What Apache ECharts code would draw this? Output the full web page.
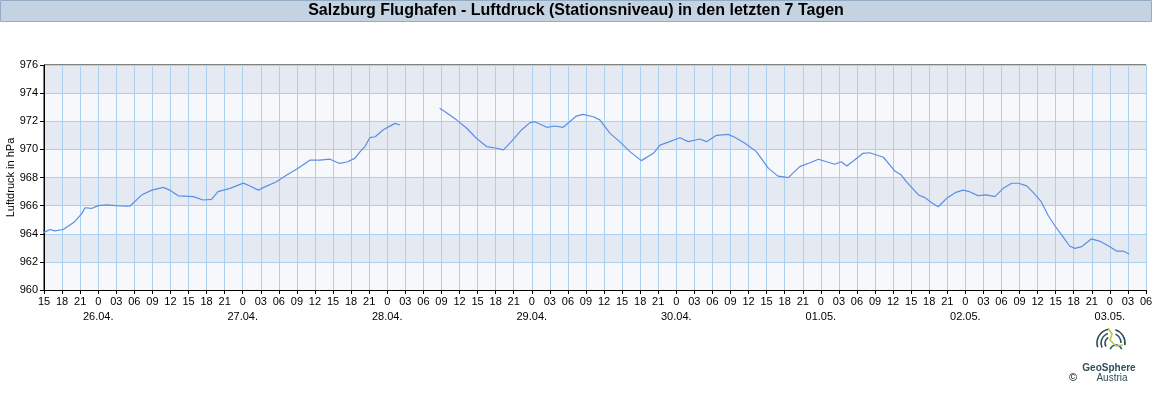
<!DOCTYPE html>
<html>
<head>
<meta charset="utf-8">
<script src="https://cdn.jsdelivr.net/npm/echarts@6/dist/echarts.min.js"></script>
<style>
html,body{margin:0;padding:0;background:#fff;}
#c{width:1152px;height:400px;}
</style>
</head>
<body>
<div id="c"></div>
<script>
// hours since 25.04. 15:00
const hours = [0,1,1.8,3.2,5.1,6.3,6.8,7.9,9,10.4,12,13.7,14.3,16.2,17.9,19.8,20.9,22.3,24.8,26.4,27.8,28.9,30.9,33.1,34.2,35.6,36.4,38.6,40.3,42,44.2,45.8,47.5,49.1,50.3,51.6,52.5,53.3,54.1,55,56.3,57.2,58.3,59.1,
  62,
  65.7,66.6,68.5,70.2,71.8,73.5,75.2,76.3,77.6,79.3,80.7,81.5,83.5,84.8,86.2,87.3,88.4,89.5,91.2,92.3,94,95.6,97.3,99.2,101.2,102.3,103.9,105.6,107,108.9,110,111.7,113.6,114.7,116.4,118.3,120.3,121.9,123.6,125.5,127.2,128.6,131.3,132.4,133.3,134.4,136,137.1,139.4,141.3,142.3,143.2,145.2,146.3,147.4,148.5,149.9,151.3,152.6,153.7,155.1,156.5,157.9,159.3,160.7,161.8,163.2,164.3,165.6,166.8,167.9,169.2,170.3,171.2,172.3,173.9,175.3,177,178.1,179.2,180.2];
const pressure = [964.1,964.3,964.2,964.3,964.86,965.45,965.85,965.8,966.0,966.05,966.0,965.97,965.97,966.75,967.1,967.3,967.1,966.7,966.64,966.4,966.45,967.0,967.23,967.6,967.4,967.1,967.28,967.7,968.18,968.6,969.24,969.24,969.3,969.0,969.1,969.36,969.84,970.2,970.83,970.9,971.38,971.6,971.85,971.73,
  '-',
  972.92,972.68,972.1,971.5,970.79,970.2,970.08,969.96,970.55,971.38,971.9,971.97,971.57,971.66,971.57,971.97,972.37,972.49,972.32,972.1,971.14,970.55,969.84,969.2,969.72,970.3,970.55,970.83,970.55,970.74,970.55,971.0,971.07,970.86,970.43,969.84,968.65,968.1,967.99,968.77,969.05,969.3,968.94,969.12,968.82,969.17,969.72,969.76,969.44,968.46,968.2,967.7,966.76,966.57,966.2,965.92,966.52,966.92,967.1,966.99,966.71,966.76,966.64,967.23,967.59,967.59,967.4,966.92,966.28,965.26,964.55,963.79,963.13,962.96,963.08,963.63,963.48,963.08,962.77,962.77,962.56];
const startHour = 15;
const dayLabels = ['26.04.','27.04.','28.04.','29.04.','30.04.','01.05.','02.05.','03.05.'];
const yMin = 960, yMax = 976, yStep = 2;
const xMin = 0, xMax = 183, xStep = 3;
const titleText = 'Salzburg Flughafen - Luftdruck (Stationsniveau) in den letzten 7 Tagen';
const yName = 'Luftdruck in hPa';

const seriesData = hours.map((h, i) => [h, pressure[i]]);
const font = 'Liberation Sans, Arial, sans-serif';

const chart = echarts.init(document.getElementById('c'), null, {renderer: 'canvas'});
chart.setOption({
  animation: false,
  backgroundColor: '#fff',
  textStyle: {fontFamily: font},
  grid: {left: 44, right: 6, top: 65, bottom: 110, containLabel: false, outerBoundsMode: 'none',
    show: true, borderColor: '#000', borderWidth: 1, backgroundColor: 'transparent'},
  graphic: [
    {type: 'rect', shape: {x: 0.5, y: 0.5, width: 1151, height: 21}, style: {fill: '#c4d3e1', stroke: '#93acc4', lineWidth: 1}, z: 10},
    {type: 'text', x: 576, y: 11, style: {text: titleText, fill: '#000', font: 'bold 16px ' + font, textAlign: 'center', textVerticalAlign: 'middle'}, z: 11},
    // logo
    {type: 'group', x: 1111, y: 343, z: 10, children: [
      {type: 'arc', shape: {cx: 0, cy: 0, r: 14, startAngle: Math.PI*0.9, endAngle: Math.PI*1.45}, style: {stroke: '#2f4f5a', lineWidth: 1.6, fill: 'none'}},
      {type: 'arc', shape: {cx: 0, cy: 0, r: 10, startAngle: Math.PI*0.85, endAngle: Math.PI*1.4}, style: {stroke: '#2f4f5a', lineWidth: 1.6, fill: 'none'}},
      {type: 'arc', shape: {cx: 0, cy: 0, r: 6, startAngle: Math.PI*0.8, endAngle: Math.PI*1.35}, style: {stroke: '#2f4f5a', lineWidth: 1.6, fill: 'none'}},
      {type: 'arc', shape: {cx: 0, cy: 0, r: 14, startAngle: Math.PI*1.6, endAngle: Math.PI*0.05}, style: {stroke: '#2f4f5a', lineWidth: 1.6, fill: 'none'}},
      {type: 'arc', shape: {cx: 0, cy: 0, r: 10, startAngle: Math.PI*1.65, endAngle: Math.PI*0.0}, style: {stroke: '#2f4f5a', lineWidth: 1.6, fill: 'none'}},
      {type: 'arc', shape: {cx: 5, cy: 8, r: 6, startAngle: Math.PI*1.1, endAngle: Math.PI*1.9}, style: {stroke: '#2f4f5a', lineWidth: 1.6, fill: 'none'}},
      {type: 'polyline', shape: {points: [[-3,-15],[1,-9],[-1,-3],[5,3],[12,2]]}, style: {stroke: '#b5cf3a', lineWidth: 1.6, fill: 'none'}}
    ]},
    {type: 'text', x: 1109, y: 368, style: {text: 'GeoSphere', fill: '#2f4f5a', font: 'bold 10px ' + font, textAlign: 'center', textVerticalAlign: 'middle'}, z: 10},
    {type: 'text', x: 1112, y: 378, style: {text: 'Austria', fill: '#2f4f5a', font: '10px ' + font, textAlign: 'center', textVerticalAlign: 'middle'}, z: 10},
    {type: 'text', x: 1073, y: 378, style: {text: '©', fill: '#000', font: '11px ' + font, textAlign: 'center', textVerticalAlign: 'middle'}, z: 10}
  ],
  xAxis: {
    type: 'value', min: xMin, max: xMax, interval: xStep,
    axisLine: {show: true, onZero: false, lineStyle: {color: '#000', width: 1}},
    axisTick: {show: true, length: 4, lineStyle: {color: '#000'}},
    axisLabel: {
      color: '#000', fontSize: 11, margin: 4, lineHeight: 15, showMaxLabel: true, showMinLabel: true,
      formatter: function (v) {
        const hod = (startHour + v) % 24;
        if (hod === 0) {
          const d = Math.round((v - (24 - startHour)) / 24);
          return '0\n' + (dayLabels[d] || '');
        }
        return (hod < 10 ? '0' : '') + hod;
      }
    },
    splitLine: {show: true, lineStyle: {color: '#aad2f0', width: 1}}
  },
  yAxis: {
    type: 'value', min: yMin, max: yMax, interval: yStep,
    name: yName, nameLocation: 'middle', nameGap: 28, nameRotate: 90, nameMoveOverlap: false,
    nameTextStyle: {color: '#000', fontSize: 11},
    axisLine: {show: true, lineStyle: {color: '#000', width: 1}},
    axisTick: {show: true, length: 4, lineStyle: {color: '#000'}},
    axisLabel: {color: '#000', fontSize: 11, margin: 6},
    splitLine: {show: true, lineStyle: {color: '#aad2f0', width: 1}},
    splitArea: {show: true, areaStyle: {color: ['#f6f8fb', '#e5eaf2']}}
  },
  series: [{
    type: 'line', data: seriesData, showSymbol: false, connectNulls: false,
    lineStyle: {color: '#5b8ee6', width: 1.2}, smooth: false
  }]
});
</script>
</body>
</html>
